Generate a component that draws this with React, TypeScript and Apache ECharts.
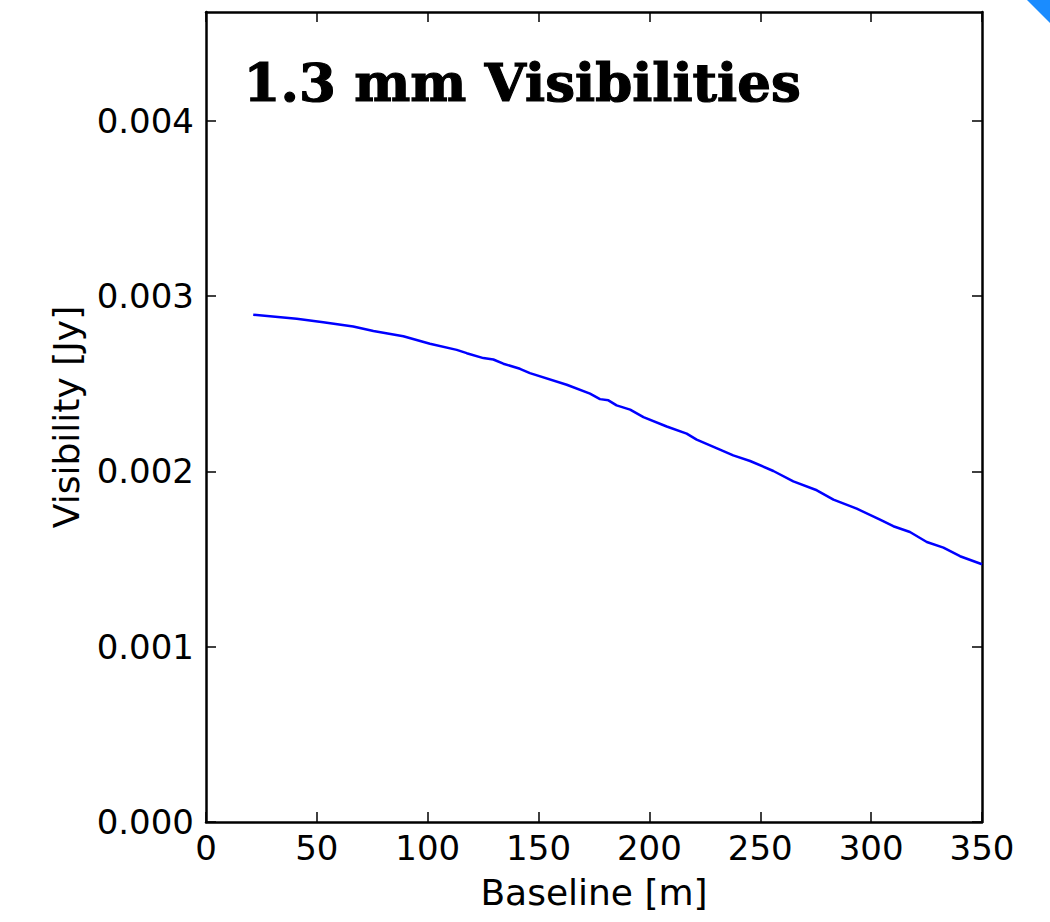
import React, { useEffect, useRef } from "react";
import * as echarts from "echarts";

const baselines = [21.3, 40.9, 52.9, 66.4, 75.5, 89, 101, 113.1, 117.6, 125.1, 129.6, 134.1, 141.6, 146.1, 162.7, 173.2, 177.7, 181.5, 185.2, 191.3, 197.3, 207.8, 216.8, 221.3, 231.8, 237.8, 245.4, 255.9, 264.9, 275.5, 283, 293.5, 304, 310, 317.5, 325.1, 332.6, 340.1, 350];
const visibilities = [0.002893, 0.00287, 0.002851, 0.002826, 0.0028, 0.002771, 0.002728, 0.002693, 0.002674, 0.002646, 0.002638, 0.002614, 0.002585, 0.00256, 0.002494, 0.002443, 0.002412, 0.002405, 0.002376, 0.002352, 0.002309, 0.002256, 0.002215, 0.002181, 0.002124, 0.002091, 0.002059, 0.002002, 0.001943, 0.001892, 0.001839, 0.001787, 0.001725, 0.001687, 0.001654, 0.001597, 0.001565, 0.001516, 0.00147];
const yTicks = [0, 0.001, 0.002, 0.003, 0.004];
const titleText = "1.3 mm Visibilities";
const xName = "Baseline [m]";
const yName = "Visibility [Jy]";

export default function App() {
  const ref = useRef<HTMLDivElement>(null);
  useEffect(() => {
    document.body.style.margin = "0";
    const chart = echarts.init(ref.current!, null, { renderer: "svg" });
    const font = "DejaVu Sans";
    const tickStyle = { show: true, inside: true, length: 10, lineStyle: { color: "#000", width: 1.5 } };
    const lineStyle = { show: true, onZero: false, lineStyle: { color: "#000", width: 2.5 } };
    const labelStyle = { fontFamily: font, fontSize: 34, color: "#000" };
    chart.setOption({
      animation: false,
      backgroundColor: "#fff",
      grid: { left: 206, right: 68, top: 12, bottom: 100 },
      xAxis: [
        {
          type: "value", position: "bottom", min: 0, max: 350, interval: 50,
          axisLine: lineStyle, axisTick: tickStyle, splitLine: { show: false },
          axisLabel: { ...labelStyle, margin: 9 },
          name: xName, nameLocation: "middle", nameGap: 52,
          nameTextStyle: { fontFamily: font, fontSize: 36, color: "#000" },
        },
        {
          type: "value", position: "top", min: 0, max: 350, interval: 50,
          axisLine: lineStyle, axisTick: tickStyle, splitLine: { show: false },
          axisLabel: { show: false },
        },
      ],
      yAxis: [
        {
          type: "value", position: "left", min: 0, max: 0.00462, interval: 0.001,
          axisLine: lineStyle,
          axisTick: { ...tickStyle, customValues: yTicks },
          splitLine: { show: false },
          axisLabel: { ...labelStyle, margin: 12, customValues: yTicks, formatter: (v: number) => v.toFixed(3) },
          name: yName, nameLocation: "middle", nameGap: 122,
          nameTextStyle: { fontFamily: font, fontSize: 36, color: "#000" },
        },
        {
          type: "value", position: "right", min: 0, max: 0.00462, interval: 0.001,
          axisLine: lineStyle,
          axisTick: { ...tickStyle, customValues: yTicks },
          splitLine: { show: false },
          axisLabel: { show: false },
        },
      ],
      series: [
        {
          type: "line",
          xAxisIndex: 0,
          yAxisIndex: 0,
          data: baselines.map((b, i) => [b, visibilities[i]]),
          showSymbol: false,
          lineStyle: { color: "#0000ff", width: 2.5 },
          itemStyle: { color: "#0000ff" },
        },
      ],
      graphic: [
        {
          type: "text", left: 243, top: 55,
          style: { text: titleText, fontFamily: "DejaVu Serif", fontWeight: 900, fontSize: 53, fill: "#000", stroke: "#000", lineWidth: 1.2 },
        },
        {
          type: "polygon",
          shape: { points: [[1027, 0], [1050, 0], [1050, 23]] },
          style: { fill: "#1a8cff" },
        },
      ],
    });
    return () => chart.dispose();
  }, []);
  return <div ref={ref} style={{ width: 1050, height: 922 }} />;
}
